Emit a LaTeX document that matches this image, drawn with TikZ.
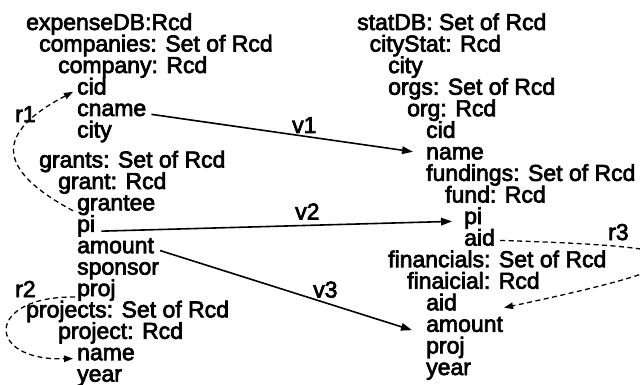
\documentclass[tikz,border=0pt]{standalone}
\usepackage{fontspec}
\setmainfont{Liberation Sans}
\newfontfamily\hvfont{Liberation Sans}[FakeBold=3]
\usetikzlibrary{arrows.meta}
\tikzset{
  fld/.style={font=\hvfont\fontsize{23}{23}\selectfont, inner sep=0pt, anchor=base west},
  lab/.style={font=\hvfont\fontsize{23}{23}\selectfont, inner sep=0pt, anchor=base west},
  vmap/.style={line width=1.6pt, -{Triangle[length=11pt,width=7.5pt]}},
  rref/.style={line width=1.3pt, dash pattern=on 5pt off 3.5pt, -{Triangle[length=9pt,width=6.5pt]}}
}
\begin{document}
\begin{tikzpicture}[x=1pt,y=-1pt]
\useasboundingbox (0,0) rectangle (640,385);
% left schema
\node[fld] (Ldb)       at (26,30)    {expenseDB:Rcd};
\node[fld] (Lcomps)    at (39,51.5)  {companies: Set of Rcd};
\node[fld] (Lcomp)     at (58,73)    {company: Rcd};
\node[fld] (Lcid)      at (77,94.5)  {cid};
\node[fld] (Lcname)    at (77,116)   {cname};
\node[fld] (Lcity)     at (77,137.5) {city};
\node[fld] (Lgrants)   at (39,167.5) {grants: Set of Rcd};
\node[fld] (Lgrant)    at (58,189)   {grant: Rcd};
\node[fld] (Lgrantee)  at (77,210.4) {grantee};
\node[fld] (Lpi)       at (77,231.8) {pi};
\node[fld] (Lamount)   at (77,253.2) {amount};
\node[fld] (Lsponsor)  at (77,274.6) {sponsor};
\node[fld] (Lproj)     at (77,296)   {proj};
\node[fld] (Lprojects) at (26,317.4) {projects: Set of Rcd};
\node[fld] (Lproject)  at (58,338.8) {project: Rcd};
\node[fld] (Lname)     at (77,360.2) {name};
\node[fld] (Lyear)     at (77,381.6) {year};
% right schema
\node[fld] (Rdb)       at (357,30)    {statDB: Set of Rcd};
\node[fld] (Rcitystat) at (369.5,51.6){cityStat: Rcd};
\node[fld] (Rcity)     at (388,73.1)  {city};
\node[fld] (Rorgs)     at (388,94.7)  {orgs: Set of Rcd};
\node[fld] (Rorg)      at (407,116.2) {org: Rcd};
\node[fld] (Rcid)      at (426,137.8) {cid};
\node[fld] (Rname)     at (426,159.4) {name};
\node[fld] (Rfundings) at (426,180.9) {fundings: Set of Rcd};
\node[fld] (Rfund)     at (445,202.5) {fund: Rcd};
\node[fld] (Rpi)       at (464,224)   {pi};
\node[fld] (Raid)      at (464,245.6) {aid};
\node[fld] (Rfins)     at (388,267.2) {financials: Set of Rcd};
\node[fld] (Rfin)      at (407,288.7) {finaicial: Rcd};
\node[fld] (Raid2)     at (426,310.3) {aid};
\node[fld] (Ramount)   at (426,331.8) {amount};
\node[fld] (Rproj)     at (426,353.4) {proj};
\node[fld] (Ryear)     at (426,375)   {year};
% value mappings
\draw[vmap] ([xshift=5pt,yshift=-1pt]Lcname.mid east) -- ([xshift=-13pt,yshift=5pt]Rname.mid west);
\draw[vmap] ([xshift=6pt,yshift=-2pt]Lpi.mid east) -- ([xshift=-12pt]Rpi.mid west);
\draw[vmap] ([xshift=6pt]Lamount.mid east) -- ([xshift=-14pt,yshift=-1pt]Ramount.mid west);
\node[lab] (v1) at (292,133) {v1};
\node[lab] (v2) at (295,219.5) {v2};
\node[lab] (v3) at (313,297.5) {v3};
% references
\draw[rref] ([xshift=-4pt,yshift=-3pt]Lgrantee.mid west) .. controls +(-78,-42) and +(-78,41) .. ([xshift=-4pt]Lcid.mid west);
\draw[rref] ([xshift=-2pt,yshift=-1pt]Lproj.base west) .. controls +(-90,-1) and +(-88,2.5) .. ([xshift=-4pt,yshift=-1pt]Lname.mid west);
\draw[rref] ([xshift=5pt,yshift=2.5pt]Raid.mid east) .. controls +(200,6) and +(236.5,-50) .. ([xshift=47pt]Raid2.mid east);
\node[lab] (r1) at (15,122) {r1};
\node[lab] (r2) at (15,297) {r2};
\node[lab] (r3) at (608,240) {r3};
\end{tikzpicture}
\end{document}
